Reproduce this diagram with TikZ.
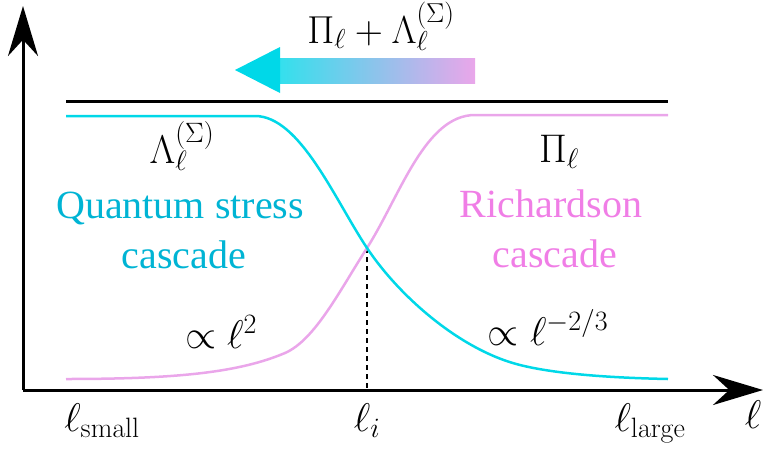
\RequirePackage{fix-cm}
\documentclass[tikz,border=0pt]{standalone}
\usepackage[no-math]{fontspec}
\setmainfont{Liberation Serif}
\usetikzlibrary{arrows.meta}
\definecolor{cyanl}{HTML}{00D8E8}
\definecolor{pinkl}{HTML}{EAA6EA}
\definecolor{cyant}{HTML}{00B4D4}
\definecolor{pinkt}{HTML}{F07EE6}
\begin{document}
\begin{tikzpicture}[x=1pt,y=-1pt,
  axis/.style={line width=3pt,-{Stealth[length=50pt,width=30pt]}},
  curve/.style={line width=2.5pt},
  lbl/.style={font=\fontsize{40}{50}\selectfont,anchor=base,inner sep=0pt},
  mlbl/.style={font=\fontsize{40}{46}\selectfont,anchor=base,inner sep=0pt}]
\useasboundingbox (0,0) rectangle (764,448);
\coordinate (O) at (23,390);
\coordinate (Y) at (23,6);
\coordinate (X) at (763,390);
\draw[axis] (O) -- (Y);
\draw[axis] (O) -- (X);
\coordinate (t1) at (66,101);
\coordinate (t2) at (668,101);
\draw[line width=3pt] (t1) -- (t2);
\coordinate (cross) at (367,248);
\coordinate (foot) at (367,390);
\draw[line width=1.4pt,dash pattern=on 5pt off 4pt] (cross) -- (foot);
\draw[curve,pinkl] (66,379) .. controls (180,379) and (240,372) .. (285,353)
  .. controls (315,340) and (340,290) .. (cross)
  .. controls (400,196) and (425,115) .. (475,115) -- (668,115);
\draw[curve,cyanl] (66,116) -- (255,116) .. controls (300,116) and (335,200) .. (cross)
  .. controls (399,296) and (460,350) .. (520,365)
  .. controls (560,375) and (620,378) .. (668,379);
% gradient arrow
\shade[left color=cyanl!80!white,right color=pinkl] (279,58) rectangle (475,83);
\fill[cyanl] (235,70) -- (280,47) -- (280,93) -- cycle;
\node[mlbl,font=\fontsize{39}{46}\selectfont] (top) at (381,43) {$\Pi_\ell+\Lambda_\ell^{(\Sigma)}$};
\node[mlbl] (lam) at (182,163) {$\Lambda_\ell^{(\Sigma)}$};
\node[lbl,text=cyant] (qs1) at (180,218) {Quantum stress};
\node[lbl,text=cyant] (qs2) at (184,268) {cascade};
\node[mlbl] (p2) at (221,348) {$\propto \ell^2$};
\node[mlbl] (pi) at (559,162) {$\Pi_\ell$};
\node[lbl,text=pinkt] (rc1) at (551,217) {Richardson};
\node[lbl,text=pinkt] (rc2) at (555,267) {cascade};
\node[mlbl] (p23) at (548,345) {$\propto \ell^{-2/3}$};
\node[mlbl] (ls) at (102,431) {$\ell_{\mathrm{small}}$};
\node[mlbl] (li) at (367,431) {$\ell_i$};
\node[mlbl] (ll) at (650,431) {$\ell_{\mathrm{large}}$};
\node[mlbl] (l) at (753,428) {$\ell$};
\end{tikzpicture}
\end{document}
